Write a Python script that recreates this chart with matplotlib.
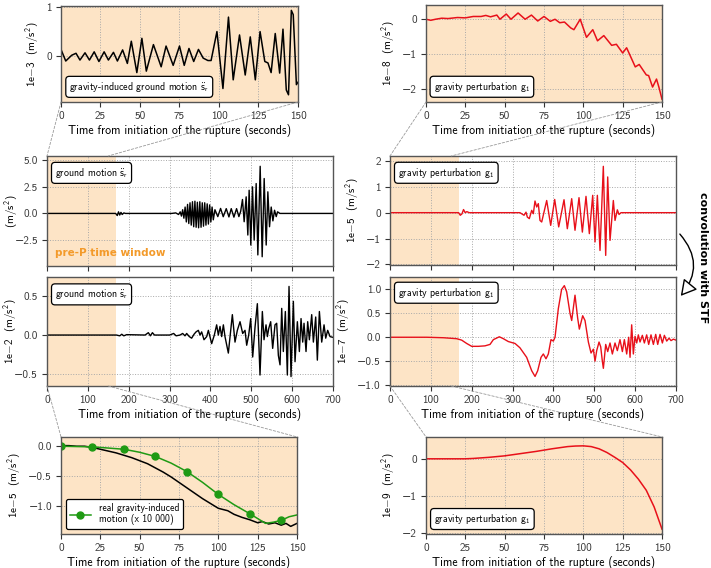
import matplotlib
matplotlib.use('Agg')
import matplotlib.pyplot as plt
from matplotlib.patches import ConnectionPatch, FancyArrowPatch

plt.rcParams['font.family'] = ['cmss10', 'DejaVu Sans']
plt.rcParams['mathtext.fontset'] = 'custom'
plt.rcParams['mathtext.rm'] = 'cmss10'
plt.rcParams['mathtext.it'] = 'cmss10'
plt.rcParams['mathtext.sf'] = 'cmss10'

# --- data ---
# top left: gravity-induced ground motion, first 150 s (x 1e-3 m/s2)
t_a = [0, 3, 6.8, 9.5, 12, 15.2, 18, 21, 24, 27.3, 30, 33.2, 35.7, 39, 42, 44.5, 48, 51.2, 54, 58.5,
       63.4, 66.5, 71, 75, 78, 81, 84, 87, 90, 93, 95, 98.7, 102.5, 106, 109, 113, 116.6, 119.8, 123,
       126, 129, 131, 133, 135.6, 138.4, 140.5, 142.6, 144, 145.8, 147, 149, 150]
v_a = [0.13, -0.11, 0.01, 0.05, -0.09, 0.06, -0.09, 0.08, -0.12, 0.08, -0.09, 0.07, -0.11, 0.12, -0.16,
       0.3, -0.35, 0.36, -0.32, 0.23, -0.23, 0.2, -0.2, 0.2, -0.2, 0.15, -0.12, 0.13, -0.05, -0.1, -0.1,
       0.5, -0.68, 0.8, -0.5, 0.43, -0.4, 0.39, -0.5, 0.5, -0.12, -0.15, -0.35, 0.46, -0.36, 0.55, -0.71,
       -0.81, 0.94, 0.85, -0.6, -0.55]

# top right: gravity perturbation, first 150 s (x 1e-8 m/s2)
t_b = [0, 3, 6, 10, 14, 20, 25, 30, 35, 38, 41, 45, 47, 51, 54, 58.5, 63, 67, 71, 75, 79, 82, 85, 88,
       92, 94, 98, 102, 106, 109, 113, 118, 121, 125, 127.5, 133, 135.5, 140, 141.5, 144, 146.5, 148, 150]
v_b = [0, -0.03, 0.0, 0.03, 0.02, 0.05, 0.04, 0.08, 0.08, 0.11, 0.07, 0.12, 0.0, 0.15, 0.0, 0.18, 0.0,
       0.12, -0.05, 0.08, -0.06, 0.0, -0.1, -0.08, -0.25, -0.3, 0.0, -0.52, -0.3, -0.62, -0.47, -0.75,
       -0.72, -0.97, -0.82, -1.37, -1.3, -1.6, -1.62, -1.95, -1.72, -1.95, -2.3]

# middle left (upper): ground motion (m/s2)
t_c = [0, 168, 172, 175, 178, 181, 184, 188, 192, 250, 305, 315, 322, 326, 329, 332, 335, 338, 341,
       344, 347, 350, 353, 356, 359, 362, 365, 368, 371, 374, 377, 380, 383, 386, 389, 392, 395, 398,
       401, 404, 407, 411, 418, 424.8, 431.3, 438.7, 445.2, 450.9, 457.4, 463.9, 469.6, 474, 478.4,
       482.5, 487.4, 491.5, 494.7, 498.8, 502.9, 507, 511.9, 516, 521.7, 526.6, 531.5, 536.4, 540.5,
       544.6, 548.7, 552.8, 556.9, 561, 564.2, 570, 700]
v_c = [0, 0, -0.2, 0.15, -0.15, 0.1, -0.1, 0.05, 0, 0, 0, 0.05, -0.1, 0.15, -0.25, 0.35, -0.45, 0.6,
       -0.8, 0.85, -0.95, 1.0, -1.1, 1.1, -1.25, 1.15, -1.3, 1.05, -1.35, 1.1, -1.3, 1.0, -1.2, 1.0,
       -1.1, 0.9, -1.0, 0.8, -0.8, 0.6, -0.6, 0.35, -0.3, 0.47, -0.31, 0.45, -0.33, 0.45, -0.35, 0.45,
       -0.3, 0.2, 1.31, -0.78, 1.56, -2.03, 2.18, -2.97, 2.5, -2.5, 2.81, -3.9, 4.43, -4.07, 3.28,
       -2.97, 2.03, -1.25, 0.6, -0.7, 0.3, -0.3, 0.15, 0, 0]

# middle right (upper): gravity perturbation (x 1e-5 m/s2)
t_d = [0, 168, 172, 176, 180, 184, 188, 194, 250, 318, 328, 332.9, 336.1, 341, 346.8, 350.8, 354.9,
       359, 363, 367.1, 371.3, 383.5, 393.3, 403.1, 412.9, 425.9, 434, 444.7, 452.8, 462.6, 470.8,
       479.7, 487.9, 496.1, 501.8, 507.5, 514, 522.1, 527.9, 532.8, 538.5, 546.6, 550.7, 556.4, 560.5,
       565.4, 700]
v_d = [0, 0, -0.1, -0.05, 0.12, 0.0, 0.04, 0.0, 0.0, 0, -0.10, 0.02, -0.17, -0.23, 0.09, -0.04, 0.45,
       0.22, 0.35, -0.3, -0.36, 0.47, -0.49, 0.51, -0.55, 0.5, -0.62, 0.54, -0.68, 0.58, -0.75, 0.63,
       -0.81, 0.67, -1.13, 0.67, -1.46, 1.79, -1.65, 1.38, -1.07, 0.47, -0.3, 0.11, -0.07, 0, 0]

# middle left (lower): ground motion (x 1e-2 m/s2)
t_e = [0, 170, 178, 183, 188, 195, 240, 248, 253, 258, 263, 300, 310, 316, 325.5, 332, 337.7, 341.8,
       348.3, 354, 359.8, 364.7, 370.4, 374.5, 378.5, 384.2, 390.8, 394.9, 403, 409.5, 415.2, 419.3,
       423.4, 427.5, 431.6, 435.6, 443.8, 453.6, 460.1, 465.8, 472.4, 478.9, 484.6, 488.7, 493.6,
       498.5, 503.4, 509.1, 514.8, 521.3, 527, 531.1, 536, 539.3, 542.5, 547.4, 552.3, 558, 562.1,
       566.2, 570.3, 574.4, 578.4, 583.3, 588.2, 592.3, 597.2, 602.9, 607, 612.7, 617.6, 621.7, 625.8,
       629, 633.9, 638, 642.1, 647.8, 651.9, 657.6, 661.6, 666.6, 672.3, 678, 682.1, 686.9, 692.7, 700]
v_e = [0, 0, -0.01, 0.01, -0.01, 0.005, 0.0, 0.03, -0.01, 0.03, 0.0, 0.0, 0.02, -0.01, 0.0, 0.02,
       -0.01, 0.02, -0.02, -0.04, 0.01, 0.04, 0.06, 0.0, 0.04, -0.06, -0.02, 0.06, -0.11, 0.0, 0.13,
       0.0, 0.11, -0.02, 0.13, -0.02, -0.23, 0.26, -0.09, 0.06, 0.17, 0.02, 0.06, -0.13, 0.0, 0.21,
       -0.28, 0.1, 0.40, -0.51, 0.30, -0.06, 0.13, -0.02, 0.08, 0.17, -0.17, 0.13, 0.15, -0.26, -0.38,
       0.34, -0.21, 0.30, -0.51, 0.62, -0.53, 0.43, -0.34, 0.17, -0.21, 0.21, -0.09, 0.15, -0.21, 0.17,
       -0.06, 0.26, -0.09, 0.23, -0.32, 0.30, -0.09, 0.13, -0.04, 0.06, -0.02, -0.03]

# middle right (lower): gravity perturbation after convolution (x 1e-7 m/s2)
t_f = [0, 90, 130.5, 163, 175.4, 187.7, 200, 216, 232.5, 244.8, 253, 267.6, 277.4, 289.6, 306, 318,
       334.5, 346.8, 355, 361.5, 369.6, 375.3, 381.8, 387.5, 394, 399.8, 403.9, 412, 420, 426.7, 432.4,
       440.6, 444.7, 452.8, 459.3, 463.4, 471.6, 477.3, 485.5, 492, 497.7, 501.8, 505.9, 511.6, 515.7,
       519.7, 522.2, 527.9, 532.8, 538.5, 544.2, 550.7, 556.4, 562.9, 568.7, 573.6, 579.3, 584.2,
       587.5, 591.5, 595.6, 599.7, 603.8, 607.8, 611.9, 617.6, 622.5, 628.2, 633.1, 638.8, 644.6,
       650.3, 655.2, 660.9, 666.6, 671.5, 677.2, 682.9, 687.8, 693.5, 700]
v_f = [0, 0, -0.01, -0.03, -0.06, -0.13, -0.19, -0.19, -0.18, -0.15, -0.05, 0.01, -0.03, -0.09, -0.13,
       -0.22, -0.42, -0.7, -0.82, -0.7, -0.42, -0.35, -0.45, -0.35, -0.05, -0.08, 0.0, 0.6, 1.0, 1.08,
       0.95, 0.5, 0.35, 0.88, 0.4, 0.17, 0.45, 0.35, -0.1, -0.33, -0.25, -0.5, -0.28, -0.1, -0.2, -0.5,
       -0.65, -0.15, -0.3, -0.12, -0.35, -0.12, -0.28, -0.05, -0.3, -0.05, -0.35, 0.0, -0.42, 0.26,
       -0.35, 0.02, -0.12, 0.05, -0.1, 0.04, -0.12, 0.05, -0.15, 0.05, -0.15, 0.06, -0.15, 0.06, -0.12,
       0.04, -0.08, -0.02, -0.07, -0.04, -0.06]

# bottom left: filtered ground motion, first 150 s (x 1e-5 m/s2)
t_g = [0, 5, 10, 15, 20, 25, 30, 35, 40, 45, 50, 55, 60, 65, 70, 75, 80, 85, 90, 95, 100, 103, 106,
       110, 115, 120, 125, 128, 132, 136, 140, 143, 146, 150]
v_g = [0.01, 0.01, 0.0, 0.0, -0.02, -0.05, -0.08, -0.11, -0.15, -0.19, -0.24, -0.29, -0.36, -0.43,
       -0.51, -0.6, -0.69, -0.78, -0.87, -0.95, -1.03, -1.05, -1.07, -1.13, -1.18, -1.22, -1.27, -1.25,
       -1.29, -1.27, -1.31, -1.28, -1.33, -1.28]
# real gravity-induced motion (x 10 000)
t_real = [0, 10, 20, 30, 40, 50, 60, 70, 80, 90, 100, 110, 120, 125, 130, 135, 140, 145, 150]
v_real = [0.0, -0.005, -0.01, -0.03, -0.05, -0.1, -0.17, -0.28, -0.42, -0.6, -0.8, -0.97, -1.12, -1.2,
          -1.28, -1.26, -1.23, -1.17, -1.14]
real_marks = [0, 2, 4, 6, 8, 10, 12, 16]

# bottom right: gravity perturbation after convolution, first 150 s (x 1e-9 m/s2)
t_h = [0, 10, 20, 25, 30, 40, 50, 60, 70, 80, 90, 95, 100, 105, 110, 115, 120, 125, 130, 135, 140, 145, 150]
v_h = [0, 0, 0, 0.0, 0.01, 0.04, 0.08, 0.14, 0.2, 0.27, 0.33, 0.345, 0.35, 0.33, 0.27, 0.17, 0.04,
       -0.1, -0.3, -0.55, -0.85, -1.3, -1.9]

pre_p_end = 170
zoom_end = 150
xlabel = 'Time from initiation of the rupture (seconds)'

peach = '#fde4c6'
orange = '#f39a2a'
red = '#e8101a'
green = '#1f9a14'
box_fs = 7.2

fig = plt.figure(figsize=(7.11, 5.68), dpi=100)

ax_a = fig.add_axes([0.0858, 0.8204, 0.3333, 0.169])
ax_b = fig.add_axes([0.5992, 0.8204, 0.3319, 0.1708])
ax_c = fig.add_axes([0.0661, 0.5317, 0.4023, 0.1937])
ax_d = fig.add_axes([0.5485, 0.5335, 0.4023, 0.1919])
ax_e = fig.add_axes([0.0661, 0.3204, 0.4023, 0.1919])
ax_f = fig.add_axes([0.5485, 0.3204, 0.4023, 0.1919])
ax_g = fig.add_axes([0.0858, 0.0599, 0.3319, 0.1708])
ax_h = fig.add_axes([0.5992, 0.0599, 0.3319, 0.1708])

all_axes = [ax_a, ax_b, ax_c, ax_d, ax_e, ax_f, ax_g, ax_h]
for ax in all_axes:
    ax.set_axisbelow(True)
    ax.grid(True, linestyle=':', color='#a8a8a8', linewidth=0.7)
    ax.tick_params(labelsize=8, colors='#333333', width=0.8, length=3.5, pad=3)
    for s in ax.spines.values():
        s.set_color('#555555')
        s.set_linewidth(1.0)

# zoomed panels are fully shaded
for ax in [ax_a, ax_b, ax_g, ax_h]:
    ax.set_facecolor(peach)
    ax.set_xlim(0, 150)
    ax.set_xticks([0, 25, 50, 75, 100, 125, 150])
    ax.set_xlabel(xlabel, fontsize=8.5, labelpad=2)

for ax in [ax_c, ax_d, ax_e, ax_f]:
    ax.axvspan(0, pre_p_end, color=peach, lw=0, zorder=0)
    ax.set_xlim(0, 700)
    ax.set_xticks([0, 100, 200, 300, 400, 500, 600, 700])
for ax in [ax_c, ax_d]:
    ax.tick_params(labelbottom=False)
for ax in [ax_e, ax_f]:
    ax.set_xlabel(xlabel, fontsize=8.5, labelpad=2)

box = dict(boxstyle='round,pad=0.35', fc='white', ec='black', lw=0.9)

# A
ax_a.plot(t_a, v_a, color='black', lw=1.1)
ax_a.set_ylim(-0.96, 1.03)
ax_a.set_yticks([0, 1])
ax_a.set_ylabel('1e$-$3  (m/s$^2$)', fontsize=8)
ax_a.text(0.035, 0.085, r'gravity-induced ground motion $\ddot{s}_r$', transform=ax_a.transAxes,
          fontsize=box_fs, va='bottom', bbox=box)

# B
ax_b.plot(t_b, v_b, color=red, lw=1.1)
ax_b.set_ylim(-2.38, 0.41)
ax_b.set_yticks([-2, -1, 0])
ax_b.set_ylabel('1e$-$8  (m/s$^2$)', fontsize=8)
ax_b.text(0.032, 0.085, 'gravity perturbation g$_1$', transform=ax_b.transAxes,
          fontsize=box_fs, va='bottom', bbox=box)

# C
ax_c.plot(t_c, v_c, color='black', lw=1.0)
ax_c.set_ylim(-4.94, 5.4)
ax_c.set_yticks([-2.5, 0.0, 2.5, 5.0])
ax_c.set_ylabel('(m/s$^2$)', fontsize=8)
ax_c.yaxis.set_label_coords(-0.094, 0.5)
ax_c.text(0.028, 0.91, r'ground motion $\ddot{s}_r$', transform=ax_c.transAxes,
          fontsize=box_fs, va='top', bbox=box)
ax_c.text(0.028, 0.12, 'pre-P time window', transform=ax_c.transAxes, color=orange,
          fontsize=7.5, fontweight='bold', family='DejaVu Sans', va='center')

# D
ax_d.plot(t_d, v_d, color=red, lw=1.0)
ax_d.set_ylim(-2.02, 2.19)
ax_d.set_yticks([-2, -1, 0, 1, 2])
ax_d.set_ylabel('1e$-$5  (m/s$^2$)', fontsize=8)
ax_d.text(0.028, 0.91, 'gravity perturbation g$_1$', transform=ax_d.transAxes,
          fontsize=box_fs, va='top', bbox=box)

# E
ax_e.plot(t_e, v_e, color='black', lw=1.0)
ax_e.set_ylim(-0.65, 0.74)
ax_e.set_yticks([-0.5, 0.0, 0.5])
ax_e.set_ylabel('1e$-$2  (m/s$^2$)', fontsize=8)
ax_e.yaxis.set_label_coords(-0.098, 0.5)
ax_e.text(0.028, 0.905, r'ground motion $\ddot{s}_r$', transform=ax_e.transAxes,
          fontsize=box_fs, va='top', bbox=box)

# F
ax_f.plot(t_f, v_f, color=red, lw=1.0)
ax_f.set_ylim(-1.02, 1.26)
ax_f.set_yticks([-1.0, -0.5, 0.0, 0.5, 1.0])
ax_f.set_ylabel('1e$-$7  (m/s$^2$)', fontsize=8)
ax_f.text(0.028, 0.92, 'gravity perturbation g$_1$', transform=ax_f.transAxes,
          fontsize=box_fs, va='top', bbox=box)

# G
ax_g.plot(t_g, v_g, color='black', lw=1.1)
ax_g.plot(t_real, v_real, color=green, lw=1.1, marker='o', markersize=5, markevery=real_marks,
          label='real gravity-induced\nmotion (x 10 000)')
ax_g.set_ylim(-1.456, 0.154)
ax_g.set_yticks([-1.0, -0.5, 0.0])
ax_g.set_ylabel('1e$-$5  (m/s$^2$)', fontsize=8)
leg = ax_g.legend(loc='lower left', fontsize=7, framealpha=1, fancybox=True, borderpad=0.4,
                  handlelength=2.2)
leg.get_frame().set_edgecolor('black')
leg.get_frame().set_linewidth(0.9)

# H
ax_h.plot(t_h, v_h, color=red, lw=1.1)
ax_h.set_ylim(-2.03, 0.59)
ax_h.set_yticks([-2, -1, 0])
ax_h.set_ylabel('1e$-$9  (m/s$^2$)', fontsize=8)
ax_h.text(0.034, 0.082, 'gravity perturbation g$_1$', transform=ax_h.transAxes,
          fontsize=box_fs, va='bottom', bbox=box)

# dashed zoom lines between panels
pairs = [(ax_a, ax_c), (ax_b, ax_d), (ax_e, ax_g), (ax_f, ax_h)]
for ax_top, ax_bot in pairs:
    for x in [0, zoom_end]:
        con = ConnectionPatch(xyA=(x, ax_top.get_ylim()[0]), coordsA=ax_top.transData,
                              xyB=(x, ax_bot.get_ylim()[1]), coordsB=ax_bot.transData,
                              color='#9a9a9a', lw=0.6, linestyle=(0, (3, 2)))
        fig.add_artist(con)

# convolution arrow
arrow = FancyArrowPatch((678 / 711, 1 - 232 / 568), (679 / 711, 1 - 298 / 568), transform=fig.transFigure,
                        connectionstyle='arc3,rad=-0.45', arrowstyle='-|>,head_length=0.8,head_width=0.45',
                        mutation_scale=12, fc='white', ec='black', lw=1.0)
fig.add_artist(arrow)
fig.text(703 / 711, 1 - 258 / 568, 'convolution with STF', rotation=270, ha='center', va='center',
         fontsize=8, fontweight='bold', family='DejaVu Sans')

fig.savefig('out.png', dpi=100)
